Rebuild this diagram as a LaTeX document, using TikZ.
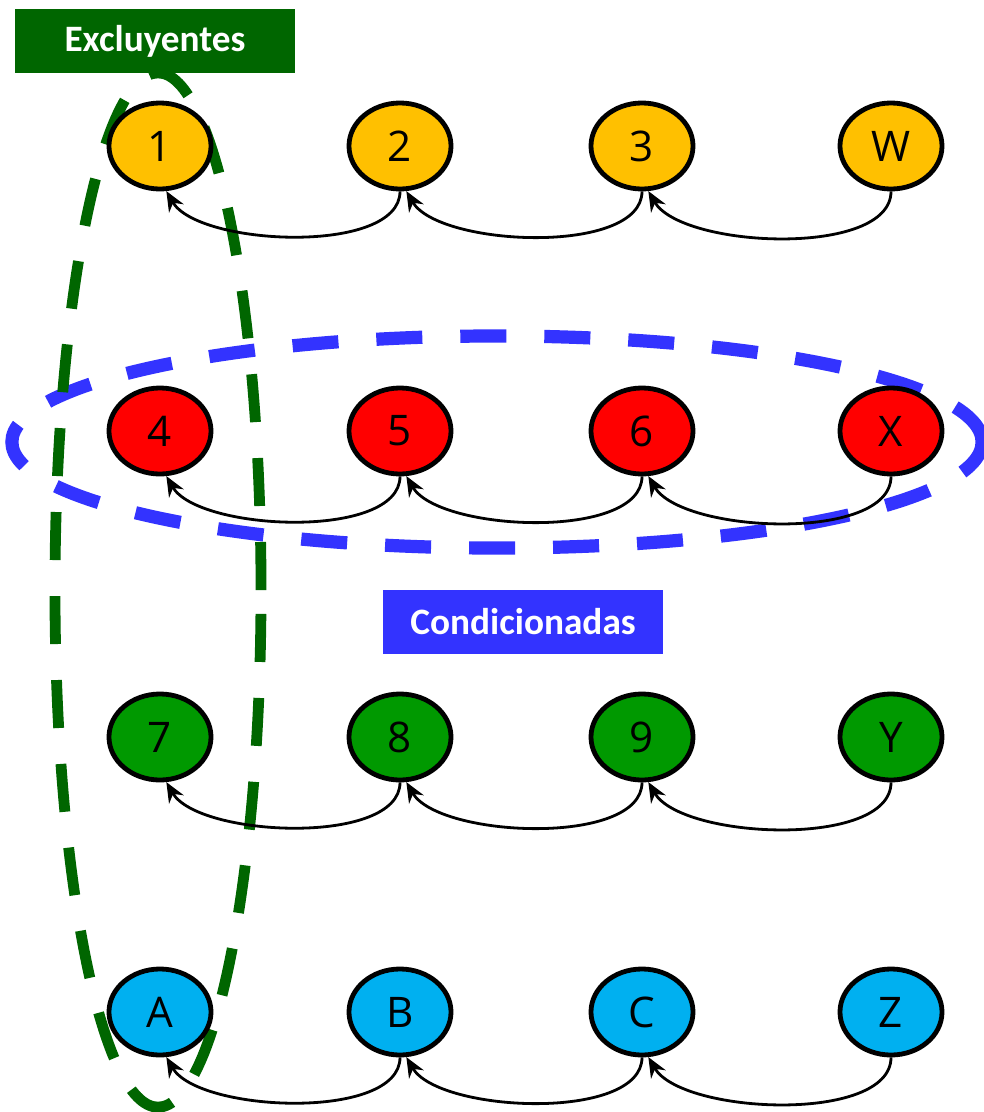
\documentclass[tikz,border=0pt]{standalone}
\usepackage{fontspec}
\setmainfont{Open Sans}
\newfontfamily\tagfont{Carlito}
\usetikzlibrary{shapes.geometric, arrows.meta}

\definecolor{oro}{RGB}{255,192,0}
\definecolor{rojo}{RGB}{255,0,0}
\definecolor{verde}{RGB}{0,153,0}
\definecolor{celeste}{RGB}{0,176,240}
\definecolor{verdeosc}{RGB}{0,102,0}
\definecolor{azul}{RGB}{51,51,255}

\begin{document}
\begin{tikzpicture}[x=0.025cm, y=-0.025cm,
  every node/.style={font=\fontsize{30}{30}\selectfont},
  estado/.style={ellipse, draw=black, line width=0.12cm, minimum width=2.55cm,
    minimum height=2.15cm, inner sep=0pt},
  etiqueta/.style={minimum width=7cm, minimum height=1.6cm, inner sep=0pt,
    text=white, font=\tagfont\bfseries\fontsize{26.5}{26.5}\selectfont},
  flecha/.style={-{Stealth[length=0.5cm,width=0.42cm]}, line width=0.07cm,
    out=-90, in=-60, looseness=0.7}]

  \useasboundingbox (0,0) rectangle (984,1112);

  % Grouping outlines
  \draw [azul, line width=0.33cm, dash pattern=on 1.15cm off 0.95cm]
    (497,442) ellipse [x radius=12.125cm, y radius=2.65cm]; % row 4-X
  \draw [verdeosc, line width=0.27cm, dash pattern=on 1.2cm off 0.9cm]
    (158,590) ellipse [x radius=2.575cm, y radius=12.925cm]; % column 1-A

  % Row 1
  \node [estado, fill=oro] (n1) at (160,146) {1};
  \node [estado, fill=oro] (n2) at (400,146) {2};
  \node [estado, fill=oro] (n3) at (642,146) {3};
  \node [estado, fill=oro] (nw) at (891,146) {W};

  % Row 2
  \node [estado, fill=rojo] (n4) at (160,431) {4};
  \node [estado, fill=rojo] (n5) at (400,431) {5};
  \node [estado, fill=rojo] (n6) at (642,431) {6};
  \node [estado, fill=rojo] (nx) at (891,431) {X};

  % Row 3
  \node [estado, fill=verde] (n7) at (160,737) {7};
  \node [estado, fill=verde] (n8) at (400,737) {8};
  \node [estado, fill=verde] (n9) at (642,737) {9};
  \node [estado, fill=verde] (ny) at (891,737) {Y};

  % Row 4
  \node [estado, fill=celeste] (na) at (160,1012) {A};
  \node [estado, fill=celeste] (nb) at (400,1012) {B};
  \node [estado, fill=celeste] (nc) at (642,1012) {C};
  \node [estado, fill=celeste] (nz) at (891,1012) {Z};

  % Links, right to left
  \draw [flecha] (nw.south) to (n3.-82);
  \draw [flecha] (n3.south) to (n2.-82);
  \draw [flecha] (n2.south) to (n1.-82);
  \draw [flecha] (nx.south) to (n6.-82);
  \draw [flecha] (n6.south) to (n5.-82);
  \draw [flecha] (n5.south) to (n4.-82);
  \draw [flecha] (ny.south) to (n9.-82);
  \draw [flecha] (n9.south) to (n8.-82);
  \draw [flecha] (n8.south) to (n7.-82);
  \draw [flecha] (nz.south) to (nc.-82);
  \draw [flecha] (nc.south) to (nb.-82);
  \draw [flecha] (nb.south) to (na.-82);

  % Labels
  \node [etiqueta, fill=verdeosc] (excl) at (155,41) {Excluyentes};
  \node [etiqueta, fill=azul] (cond) at (523,622) {Condicionadas};
\end{tikzpicture}
\end{document}
